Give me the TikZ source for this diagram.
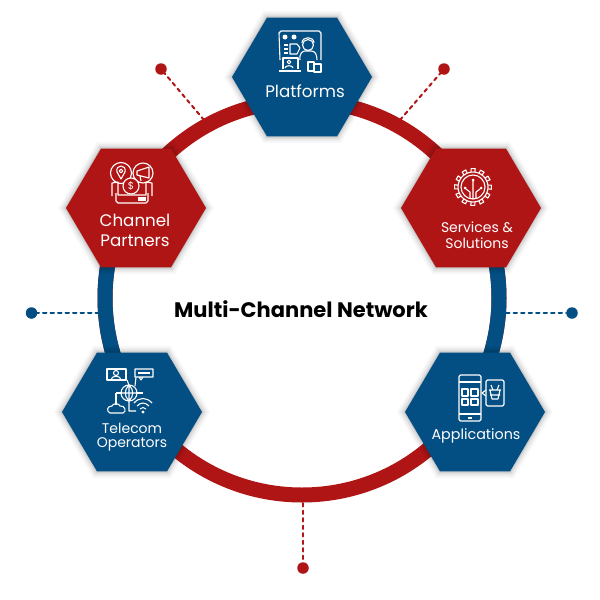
\documentclass[tikz,border=0pt]{standalone}
\usepackage{fontspec}
\setmainfont{Poppins}
\usetikzlibrary{positioning,shapes.geometric,shadows,calc}
\definecolor{rojo}{HTML}{B01515}
\definecolor{azul}{HTML}{034E82}

\begin{document}
\begin{tikzpicture}[x=1pt, y=-1pt, line join=round,
      hexbox/.style={regular polygon, regular polygon sides=6, minimum size=140pt, inner sep=0pt,
                     yscale=.98, transform shape,
                     general shadow={shadow scale=1.11,fill=black,opacity=.03},
                     general shadow={shadow scale=1.08,fill=black,opacity=.04},
                     general shadow={shadow scale=1.05,fill=black,opacity=.06},
                     general shadow={shadow scale=1.02,fill=black,opacity=.09}},
      hexlabel/.style={text=white, inner sep=0pt, align=center, font=\fontsize{16.7}{16.7}\selectfont},
      small/.style={font=\fontsize{14}{14}\selectfont},
      icon/.style={draw=white, line width=1.1pt},
      stub/.style={dash pattern=on 3.5pt off 4pt, line cap=round, line width=2pt},
      dot/.style={circle, minimum size=11.5pt, inner sep=0pt}]
    \useasboundingbox (0,0) rectangle (600,600);
    \fill[white] (0,0) rectangle (600,600);

    % ring
    \coordinate (ringc) at (302,298);
    \draw[rojo, line width=15pt] (ringc) circle (197);
    \draw[azul, line width=15pt] (ringc) ++(160:197) arc (160:200:197);
    \draw[azul, line width=15pt] (ringc) ++(-20:197) arc (-20:20:197);

    % stubs
    \node[dot, fill=rojo] (dottl) at (161,69) {};
    \node[dot, fill=rojo] (dottr) at (444,69) {};
    \node[dot, fill=azul] (dotl) at (31.5,313) {};
    \node[dot, fill=azul] (dotr) at (572,313) {};
    \node[dot, fill=rojo] (dotb) at (303,568) {};
    \coordinate (endtl) at (204,120);
    \coordinate (endtr) at (400,120);
    \coordinate (endl) at (99,313);
    \coordinate (endr) at (506,313);
    \coordinate (endb) at (303,503);
    \draw[stub, rojo] (endtl) -- (dottl);
    \draw[stub, rojo] (endtr) -- (dottr);
    \draw[stub, azul] (endl) -- (dotl);
    \draw[stub, azul] (endr) -- (dotr);
    \draw[stub, rojo] (endb) -- (dotb);

    % hexagons
    \node[hexbox, fill=azul] (platforms) at (302,77) {};
    \node[hexbox, fill=rojo] (channel) at (136,208) {};
    \node[hexbox, fill=rojo] (services) at (471,208) {};
    \node[hexbox, fill=azul] (telecom) at (132,412) {};
    \node[hexbox, fill=azul] (applications) at (475,412) {};

    % labels
    \node[hexlabel] (lblplatforms) at (305,91) {Platforms};
    \node[hexlabel] (lblchannel) at (135,220) {Channel};
    \node[hexlabel] (lblpartners) at (135,241) {Partners};
    \node[hexlabel, small] (lblservices) at (477,227) {Services \&};
    \node[hexlabel, small] (lblsolutions) at (477,243) {Solutions};
    \node[hexlabel, small] (lbltelecom) at (132,428) {Telecom};
    \node[hexlabel, small] (lbloperators) at (132,444) {Operators};
    \node[hexlabel, font=\fontsize{14.3}{14.3}\selectfont] (lblapplications) at (476,436) {Applications};
    \node[inner sep=0pt, font=\fontsize{21}{21}\bfseries\selectfont] (title) at (301,309) {Multi-Channel Network};

    % icon platforms
    \draw[icon] (298,71) -- (280,71) (280,60) -- (279,33) -- (281,31) -- (319,31) -- (321,33) -- (321,60);
    \draw[icon] (308,45) circle (5.5);
    \draw[icon] (302,43) .. controls (302,36) and (314,36) .. (314,43);
    \draw[icon] (300,60) .. controls (299,53) and (303,51) .. (305,51) -- (311,51) .. controls (315,51) and (317,54) .. (317,60);
    \fill[white] (285,37) circle (2.5) (294,37) circle (2.5);
    \draw[icon] (284,45) -- (288,45) (284,49) -- (288,49) (284,53) -- (288,53);
    \draw[icon] (290,44) -- (297,44) -- (300,48) -- (297,54) -- (290,54) -- cycle;
    \draw[icon] (283,69) -- (283,58) -- (298,58) -- (298,69) (279,71) -- (301,71);
    \draw[icon] (289,62) circle (1.8) (285,68) .. controls (285,65) and (293,65) .. (293,68);
    \draw[icon] (308,62) rectangle (314,71) (314,64) rectangle (321,72);

    % icon channel
    \draw[icon] (121,173) circle (10.5) (143,173) circle (10);
    \draw[icon] (121,179) -- (117,172) .. controls (115,164) and (127,164) .. (125,172) -- cycle;
    \draw[icon] (121,171) circle (1.8);
    \draw[icon] (137,171) -- (149,167) -- (149,178) -- (137,175) -- cycle (140,176) -- (141,181);
    \draw[icon, fill=rojo] (131,186) circle (8);
    \node[text=white, inner sep=0pt, font=\fontsize{10}{10}\selectfont] (dollar) at (131,186) {\$};
    \draw[icon] (116,193) -- (116,201) -- (118,203) -- (146,203) -- (148,201) -- (148,193);
    \draw[icon] (112,196) -- (112,183) -- (118,182) -- (118,195) -- (146,195) -- (146,182) -- (152,183) -- (152,196);
    \draw[icon] (138,198) -- (146,198) (138,200) -- (146,200);

    % icon services
    \draw[icon] (473,187) circle (15) (473,187) circle (12);
    \foreach \ang in {0,30,...,330}
      \draw[icon] (473,187) ++(\ang-7:15) -- ++(\ang:3.5) -- ($(473,187)+(\ang+7:18.5)$) -- ($(473,187)+(\ang+7:15)$);
    \draw[icon] (473,181) -- (473,199) (466,189) -- (470,192) -- (470,198) (480,189) -- (476,192) -- (476,198);
    \fill[white] (473,180) circle (1.5) (465,188) circle (1.5) (481,188) circle (1.5);

    % icon telecom
    \draw[icon] (107,369) rectangle (126,380);
    \draw[icon] (116,373) circle (2.5) (111,380) .. controls (111,375) and (121,375) .. (121,380);
    \draw[icon] (135,369) rectangle (153,377) (139,377) -- (141,380) -- (143,377);
    \draw[icon] (138,373) -- (150,373);
    \draw[icon] (129,393) circle (8) (121,393) -- (137,393) (129,385) .. controls (124,390) and (124,396) .. (129,401);
    \draw[icon] (129,385) .. controls (134,390) and (134,396) .. (129,401) (129,385) -- (129,401);
    \draw[icon] (127,380) -- (129,385) (129,401) -- (129,411) -- (136,411) (136,377) -- (135,386);
    \draw[icon] (116,393) -- (121,393) (116,393) -- (116,405) (137,393) -- (143,393);
    \draw[icon] (110,413) .. controls (106,411) and (107,406) .. (112,406) .. controls (113,403) and (119,403) .. (120,406) .. controls (125,405) and (127,412) .. (123,413) -- cycle;
    \draw[icon] (134,403) .. controls (139,397) and (147,397) .. (152,403);
    \draw[icon] (137,406) .. controls (141,402) and (145,402) .. (149,406);
    \draw[icon] (140,409) .. controls (142,407) and (144,407) .. (146,409);
    \fill[white] (143,412) circle (1.6);

    % icon applications
    \draw[icon, rounded corners=1.5pt] (459,375) rectangle (481,421);
    \draw[icon] (459,382) -- (481,382) (459,414) -- (481,414) (468,418) -- (472,418);
    \draw[icon] (462,389) rectangle (468,396) (471,389) rectangle (478,396);
    \draw[icon] (462,399) rectangle (468,405) (471,399) rectangle (478,405);
    \draw[icon, rounded corners=1.5pt] (486,380) rectangle (504,406);
    \draw[icon] (486,390) -- (482,393) -- (486,396);
    \draw[icon] (489,390) -- (501,390) (490,390) -- (492,399) -- (498,399) -- (500,390) (490,395) -- (500,395);
    \draw[icon] (493,390) -- (491,385) (497,390) -- (499,385);
  \end{tikzpicture}
\end{document}
